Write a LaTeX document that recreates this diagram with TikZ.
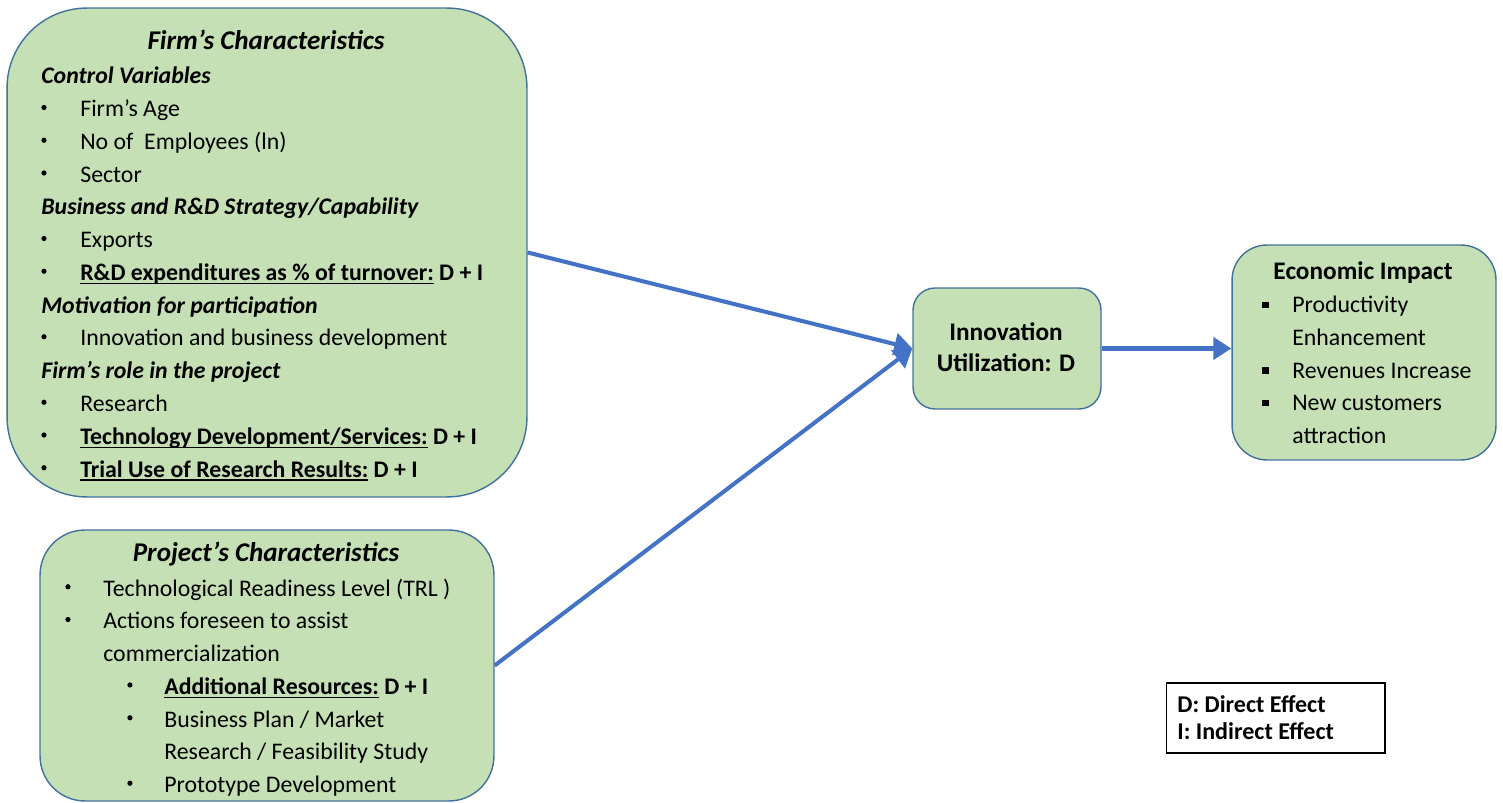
\documentclass[tikz,border=0pt]{standalone}
\usepackage{fontspec}
\setmainfont{Carlito}
\usetikzlibrary{arrows.meta}
\definecolor{boxgreen}{HTML}{C5E0B4}
\definecolor{boxline}{HTML}{41719C}
\definecolor{arrowblue}{HTML}{4472C4}
\newcommand{\bul}[1]{\makebox[#1][l]{\tikz[baseline=0pt]\fill (0.08cm,0.185cm) circle (0.052cm);}}
\newcommand{\sqbul}{\makebox[0.6cm][l]{\rule[0.09cm]{0.13cm}{0.13cm}}}
\newcommand{\undr}[1]{\setbox0\hbox{#1}\rlap{\rule[-0.07cm]{\wd0}{0.6pt}}\box0\relax}

\begin{document}
\begin{tikzpicture}[x=0.02cm, y=-0.02cm,
		panel/.style = {draw=boxline, fill=boxgreen, line width=0.8pt, inner sep=0pt},
		txt/.style = {anchor=base west, inner sep=0pt, font=\fontsize{13.55}{16}\selectfont},
		head/.style = {anchor=base west, inner sep=0pt, font=\fontsize{13.55}{16}\selectfont\bfseries\itshape},
		ttl/.style = {anchor=base, inner sep=0pt, font=\fontsize{15.4}{18}\selectfont\bfseries\itshape},
		bold/.style = {anchor=base, inner sep=0pt, font=\fontsize{14.4}{17}\selectfont\bfseries},
		link/.style = {draw=arrowblue, line width=2.3pt, -{Triangle[length=0.36cm, width=0.44cm]}}]
		\useasboundingbox (0,0) rectangle (1503,803);
		% boxes
		\node[panel, rounded corners=1.6cm, minimum width=10.4cm, minimum height=9.78cm] (firm) at (267,252.5) {};
		\node[panel, rounded corners=0.9cm, minimum width=9.08cm, minimum height=5.42cm] (proj) at (267,665.5) {};
		\node[panel, rounded corners=0.44cm, minimum width=3.76cm, minimum height=2.42cm] (innov) at (1007,348.5) {};
		\node[panel, rounded corners=0.7cm, minimum width=5.28cm, minimum height=4.3cm] (econ) at (1364,352.5) {};
		\node[draw, line width=0.6pt, inner sep=0pt, minimum width=4.38cm, minimum height=1.4cm] (legend) at (1275.5,718) {};
		% firm's characteristics
		\node[ttl] (f0) at (266,50) {Firm’s Characteristics};
		\node[head] (f1) at (41,84) {Control Variables};
		\node[txt] (f2) at (41,116.75) {\bul{0.78cm}Firm’s Age};
		\node[txt] (f3) at (41,149.5) {\bul{0.78cm}No of\ \ Employees (ln)};
		\node[txt] (f4) at (41,182.25) {\bul{0.78cm}Sector};
		\node[head] (f5) at (41,215) {Business and R\&D Strategy/Capability};
		\node[txt] (f6) at (41,247.75) {\bul{0.78cm}Exports};
		\node[txt] (f7) at (41,280.5) {\bul{0.78cm}\textbf{\undr{R\&D expenditures as \% of turnover:} D + I}};
		\node[head] (f8) at (41,313.25) {Motivation for participation};
		\node[txt] (f9) at (41,346) {\bul{0.78cm}Innovation and business development};
		\node[head] (f10) at (41,378.75) {Firm’s role in the project};
		\node[txt] (f11) at (41,411.5) {\bul{0.78cm}Research};
		\node[txt] (f12) at (41,444.25) {\bul{0.78cm}\textbf{\undr{Technology Development/Services:} D + I}};
		\node[txt] (f13) at (41,477) {\bul{0.78cm}\textbf{\undr{Trial Use of Research Results:} D + I}};
		% project's characteristics
		\node[ttl] (p0) at (266,561) {Project’s Characteristics};
		\node[txt] (p1) at (65,596) {\bul{0.76cm}Technological Readiness Level (TRL )};
		\node[txt] (p2) at (65,628.75) {\bul{0.76cm}Actions foreseen to assist};
		\node[txt] (p3) at (103,661.5) {commercialization};
		\node[txt] (p4) at (127,694.25) {\bul{0.74cm}\textbf{\undr{Additional Resources:} D + I}};
		\node[txt] (p5) at (127,727) {\bul{0.74cm}Business Plan / Market};
		\node[txt] (p6) at (164,759.75) {Research / Feasibility Study};
		\node[txt] (p7) at (127,792.5) {\bul{0.74cm}Prototype Development};
		% innovation utilization
		\node[bold] (i1) at (1006,341) {Innovation};
		\node[bold] (i2) at (1006,372) {Utilization: D};
		% economic impact
		\node[bold] (e0) at (1363,280) {Economic Impact};
		\node[txt] (e1) at (1262,312.5) {\sqbul Productivity};
		\node[txt] (e2) at (1292,345.25) {Enhancement};
		\node[txt] (e3) at (1262,378) {\sqbul Revenues Increase};
		\node[txt] (e4) at (1262,410.75) {\sqbul New customers};
		\node[txt] (e5) at (1292,443.5) {attraction};
		% legend
		\node[txt, font=\fontsize{13.7}{16}\selectfont\bfseries] (l1) at (1177,712) {D: Direct Effect};
		\node[txt, font=\fontsize{13.7}{16}\selectfont\bfseries] (l2) at (1177,739) {I: Indirect Effect};
		% connectors
		\draw[link] (firm.east) -- (innov.west);
		\draw[link] (proj.east) -- (innov.west);
		\draw[link] (innov.east) -- (innov.east -| econ.west);
	\end{tikzpicture}
\end{document}
